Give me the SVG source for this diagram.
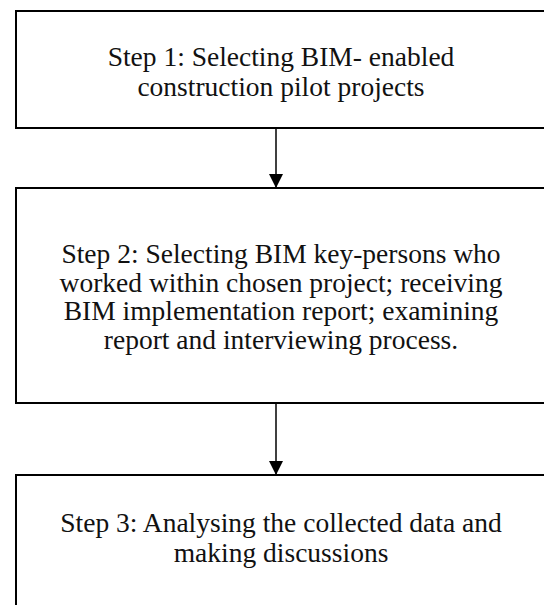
<svg xmlns="http://www.w3.org/2000/svg" width="544" height="605" viewBox="0 0 544 605">
<defs>
<style>
.box{fill:#fff;stroke:#000;stroke-width:2}
.t{font-family:"Liberation Serif","Times New Roman",serif;font-size:27.5px;fill:#111;text-anchor:middle}
.conn{stroke:#000;stroke-width:1.5;fill:none}
</style>
<marker id="arr" markerWidth="16" markerHeight="14" refX="16" refY="8" orient="auto" markerUnits="userSpaceOnUse" viewBox="0 0 16 16">
<path d="M0,0 L16,8 L0,16 Z" fill="#000"/>
</marker>
</defs>
<rect width="544" height="605" fill="#fff"/>
<g id="step1">
<rect class="box" x="16" y="11" width="535" height="117"/>
<text class="t" x="281" y="66">Step 1: Selecting BIM- enabled</text>
<text class="t" x="281" y="96">construction pilot projects</text>
</g>
<g id="step2">
<rect class="box" x="16" y="188" width="535" height="215"/>
<text class="t" x="281" y="263">Step 2: Selecting BIM key-persons who</text>
<text class="t" x="281" y="292">worked within chosen project; receiving</text>
<text class="t" x="281" y="320">BIM implementation report; examining</text>
<text class="t" x="281" y="349">report and interviewing process.</text>
</g>
<g id="step3">
<rect class="box" x="16" y="475" width="535" height="150"/>
<text class="t" x="281" y="532">Step 3: Analysing the collected data and</text>
<text class="t" x="281" y="562">making discussions</text>
</g>
<g id="connectors">
<line class="conn" x1="276" y1="129" x2="276" y2="188" marker-end="url(#arr)"/>
<line class="conn" x1="276" y1="404" x2="276" y2="475" marker-end="url(#arr)"/>
</g>
</svg>
